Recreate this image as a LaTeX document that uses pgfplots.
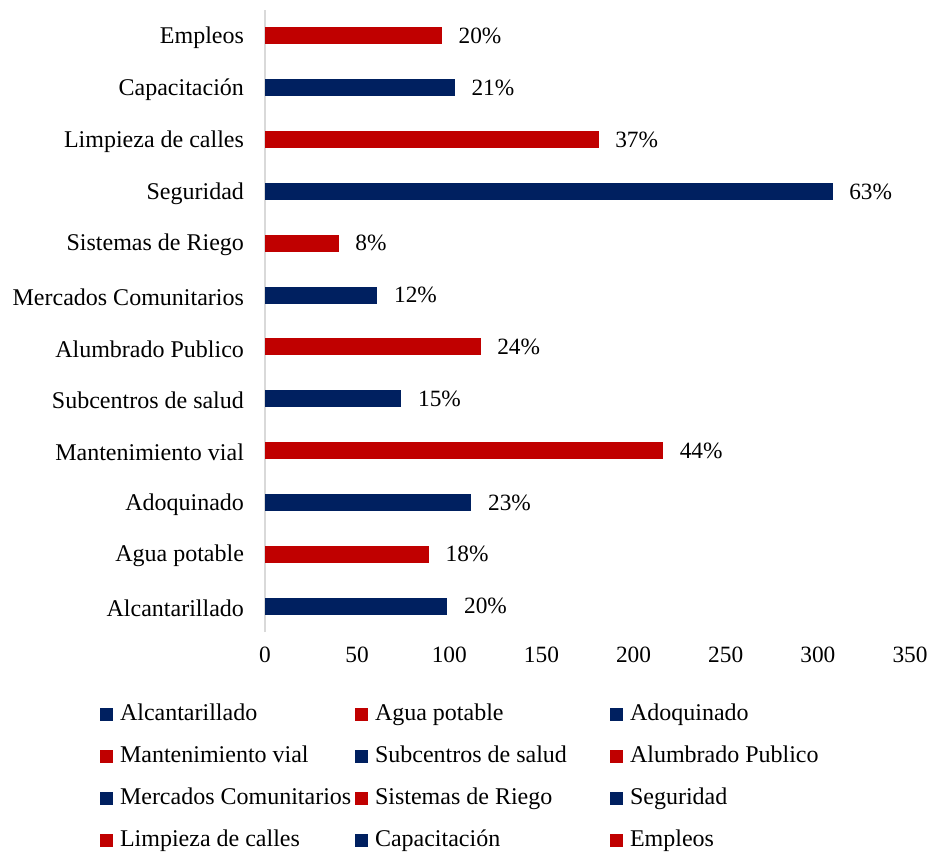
\documentclass[border=0pt]{standalone}
\usepackage{fontspec}
\setmainfont{Liberation Serif}
\usepackage{pgfplots}
\pgfplotsset{compat=1.18}
\definecolor{navy}{HTML}{002060}
\definecolor{dred}{HTML}{C00000}
\definecolor{axgray}{HTML}{D9D9D9}
\newcommand{\fs}{\fontsize{17.5}{21}\selectfont}
\newcommand{\fl}{\fontsize{18}{21.6}\selectfont}
\begin{document}
\begin{tikzpicture}
\useasboundingbox (0,0) rectangle (698.25pt,639.75pt);
\begin{axis}[
  at={(198.75pt,165.75pt)}, anchor=south west,
  scale only axis,
  width=483.75pt, height=466.5pt,
  xbar,
  xmin=0, xmax=350,
  ymin=-0.5, ymax=11.5,
  xtick={0,50,...,350},
  ytick={0,...,11},
  yticklabels={Alcantarillado,Agua potable,Adoquinado,Mantenimiento vial,Subcentros de salud,Alumbrado Publico,Mercados Comunitarios,Sistemas de Riego,Seguridad,Limpieza de calles,Capacitación,Empleos},
  axis lines*=left,
  x axis line style={draw=none},
  y axis line style={draw=axgray, line width=1pt},
  tick style={draw=none},
  /pgf/number format/assume math mode=true,
  xticklabel style={font=\fs, text=black, yshift=-8pt},
  yticklabel style={font=\fl, text=black, xshift=-8pt, yshift=-1.5pt},
  every axis plot/.append style={bar shift=0pt, bar width=12.75pt, draw=none},
  point meta=explicit symbolic,
  nodes near coords,
  nodes near coords style={font=\fs, text=black, anchor=west, xshift=9pt},
  legend columns=3,
  legend image code/.code={\fill[#1, draw=none] (0pt,-4.9pt) rectangle (9.75pt,4.9pt);},
  legend style={draw=none, fill=none, inner sep=0pt, outer sep=0pt,
    at={(-0.2558,-0.1158)}, anchor=north west,
    column sep=5.25pt, row sep=15.5pt,
    nodes={inner sep=0pt, anchor=west, text height=12.5pt, text depth=3.5pt, font=\fl}},
]
\addplot[fill=navy, bar shift=0pt] coordinates {(99,0) [20\%]};
\addlegendentry{\makebox[171pt][l]{Alcantarillado}}
\addplot[fill=dred, bar shift=0pt] coordinates {(89,1) [18\%]};
\addlegendentry{\makebox[171pt][l]{Agua potable}}
\addplot[fill=navy, bar shift=0pt] coordinates {(112,2) [23\%]};
\addlegendentry{\makebox[171pt][l]{Adoquinado}}
\addplot[fill=dred, bar shift=0pt] coordinates {(216,3) [44\%]};
\addlegendentry{\makebox[171pt][l]{Mantenimiento vial}}
\addplot[fill=navy, bar shift=0pt] coordinates {(74,4) [15\%]};
\addlegendentry{\makebox[171pt][l]{Subcentros de salud}}
\addplot[fill=dred, bar shift=0pt] coordinates {(117,5) [24\%]};
\addlegendentry{\makebox[171pt][l]{Alumbrado Publico}}
\addplot[fill=navy, bar shift=0pt] coordinates {(61,6) [12\%]};
\addlegendentry{\makebox[171pt][l]{Mercados Comunitarios}}
\addplot[fill=dred, bar shift=0pt] coordinates {(40,7) [8\%]};
\addlegendentry{\makebox[171pt][l]{Sistemas de Riego}}
\addplot[fill=navy, bar shift=0pt] coordinates {(308,8) [63\%]};
\addlegendentry{\makebox[171pt][l]{Seguridad}}
\addplot[fill=dred, bar shift=0pt] coordinates {(181,9) [37\%]};
\addlegendentry{\makebox[171pt][l]{Limpieza de calles}}
\addplot[fill=navy, bar shift=0pt] coordinates {(103,10) [21\%]};
\addlegendentry{\makebox[171pt][l]{Capacitación}}
\addplot[fill=dred, bar shift=0pt] coordinates {(96,11) [20\%]};
\addlegendentry{\makebox[171pt][l]{Empleos}}
\end{axis}
\end{tikzpicture}
\end{document}
